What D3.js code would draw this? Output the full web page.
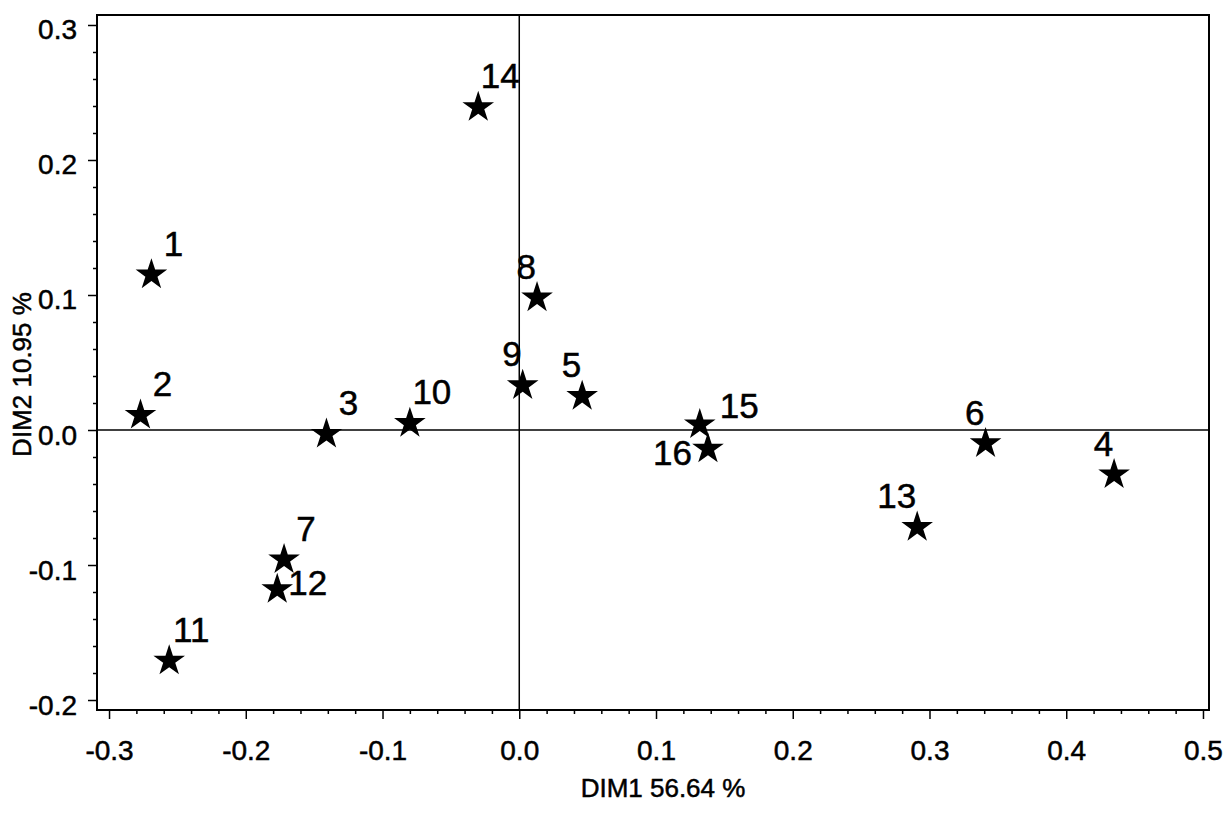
<!DOCTYPE html>
<html>
<head>
<meta charset="utf-8">
<script src="https://cdn.jsdelivr.net/npm/d3@7"></script>
<style>
  html, body { margin: 0; padding: 0; background: #fff; }
  svg { display: block; }
  text { font-family: "Liberation Sans", Arial, Helvetica, sans-serif; fill: #000; stroke: #000; stroke-width: 0.5px; }
</style>
</head>
<body>
<svg id="chart" width="1228" height="816"></svg>
<script>
// ---- data ----
const pointLabels = ["1","2","3","4","5","6","7","8","9","10","11","12","13","14","15","16"];
const dim1 = [-0.269, -0.277, -0.141, 0.435, 0.046, 0.341, -0.172, 0.013, 0.0025, -0.080, -0.256, -0.177, 0.291, -0.030, 0.132, 0.138];
const dim2 = [0.115, 0.011, -0.003, -0.033, 0.025, -0.010, -0.096, 0.098, 0.033, 0.005, -0.171, -0.118, -0.072, 0.239, 0.004, -0.014];
// label placement code relative to the star
const labelPlace = ["NE","NE","NE","NW","NW","NW","NE","NW","NW","NE","NE","E2","NW","NE","E","SW"];
const xTickValues = [-0.3, -0.2, -0.1, 0.0, 0.1, 0.2, 0.3, 0.4, 0.5];
const xTickLabels = ["-0.3","-0.2","-0.1","0.0","0.1","0.2","0.3","0.4","0.5"];
const yTickValues = [-0.2, -0.1, 0.0, 0.1, 0.2, 0.3];
const yTickLabels = ["-0.2","-0.1","0.0","0.1","0.2","0.3"];
const xTitle = "DIM1 56.64 %";
const yTitle = "DIM2 10.95 %";

// ---- layout ----
const margin = {left: 97, top: 15, right: 19, bottom: 106};
const W = 1228, H = 816;
const pw = W - margin.left - margin.right;   // 1112
const ph = H - margin.top - margin.bottom;   // 695

const svg = d3.select("#chart");
const g = svg.append("g").attr("transform", `translate(${margin.left},${margin.top})`);

const x = d3.scaleLinear().domain([-0.3088, 0.5044]).range([0, pw]);
const y = d3.scaleLinear().domain([-0.2074, 0.3074]).range([ph, 0]);

const fmtX = d => xTickLabels[xTickValues.findIndex(v => Math.abs(v - d) < 1e-9)];
const fmtY = d => yTickLabels[yTickValues.findIndex(v => Math.abs(v - d) < 1e-9)];

const xMinor = d3.range(-30, 51, 2).map(v => v / 100).filter(v => Math.abs(Math.round(v * 10) - v * 10) > 1e-6);
const yMinor = d3.range(-20, 31, 2).map(v => v / 100).filter(v => Math.abs(Math.round(v * 10) - v * 10) > 1e-6);

// minor ticks
g.append("g").attr("transform", `translate(0,${ph})`)
  .call(d3.axisBottom(x).tickValues(xMinor).tickSize(4).tickFormat(""))
  .call(a => a.select(".domain").remove())
  .selectAll("line").attr("stroke", "#000").attr("stroke-width", 1.5);
g.append("g")
  .call(d3.axisLeft(y).tickValues(yMinor).tickSize(4).tickFormat(""))
  .call(a => a.select(".domain").remove())
  .selectAll("line").attr("stroke", "#000").attr("stroke-width", 1.5);

// major ticks
const xAxis = g.append("g").attr("transform", `translate(0,${ph})`)
  .call(d3.axisBottom(x).tickValues(xTickValues).tickSize(9).tickPadding(21).tickFormat(fmtX));
xAxis.select(".domain").remove();
xAxis.selectAll("line").attr("stroke", "#000").attr("stroke-width", 1.5);
xAxis.selectAll("text").attr("font-size", 28).attr("font-family", null);

const yAxis = g.append("g")
  .call(d3.axisLeft(y).tickValues(yTickValues).tickSize(9).tickPadding(11).tickFormat(fmtY));
yAxis.select(".domain").remove();
yAxis.selectAll("line").attr("stroke", "#000").attr("stroke-width", 1.5);
yAxis.selectAll("text").attr("font-size", 28).attr("dy", "0.5em").attr("font-family", null);

// frame
g.append("rect").attr("x", 0).attr("y", 0).attr("width", pw).attr("height", ph)
  .attr("fill", "none").attr("stroke", "#000").attr("stroke-width", 2);

// reference lines
g.append("line").attr("x1", x(0)).attr("x2", x(0)).attr("y1", 0).attr("y2", ph)
  .attr("stroke", "#000").attr("stroke-width", 1.5);
g.append("line").attr("x1", 0).attr("x2", pw).attr("y1", y(0)).attr("y2", y(0))
  .attr("stroke", "#000").attr("stroke-width", 1.5);

// points
const pts = pointLabels.map((lab, i) => ({lab, vx: dim1[i], vy: dim2[i], place: labelPlace[i]}));
const star = d3.symbol().type(d3.symbolStar).size(310);
g.selectAll("path.pt").data(pts).join("path")
  .attr("class", "pt")
  .attr("d", star)
  .attr("transform", d => `translate(${x(d.vx)},${y(d.vy)})`)
  .attr("fill", "#000");

const placeMap = {
  NE: {dx: 22, dy: -19, anchor: "middle"},
  NW: {dx: -1, dy: -19, anchor: "end"},
  E:  {dx: 20, dy: -7, anchor: "start"},
  E2: {dx: 11, dy: 6, anchor: "start"},
  SW: {dx: -16, dy: 16, anchor: "end"}
};
g.selectAll("text.lab").data(pts).join("text")
  .attr("class", "lab")
  .attr("x", d => x(d.vx) + placeMap[d.place].dx)
  .attr("y", d => y(d.vy) + placeMap[d.place].dy)
  .attr("text-anchor", d => placeMap[d.place].anchor)
  .attr("font-size", 35)
  .text(d => d.lab);

// axis titles
svg.append("text")
  .attr("x", margin.left + pw / 2 + 10)
  .attr("y", 797)
  .attr("text-anchor", "middle")
  .attr("font-size", 26)
  .text(xTitle);
svg.append("text")
  .attr("transform", `translate(31,${margin.top + ph / 2 + 12}) rotate(-90)`)
  .attr("text-anchor", "middle")
  .attr("font-size", 26)
  .text(yTitle);
</script>
</body>
</html>
